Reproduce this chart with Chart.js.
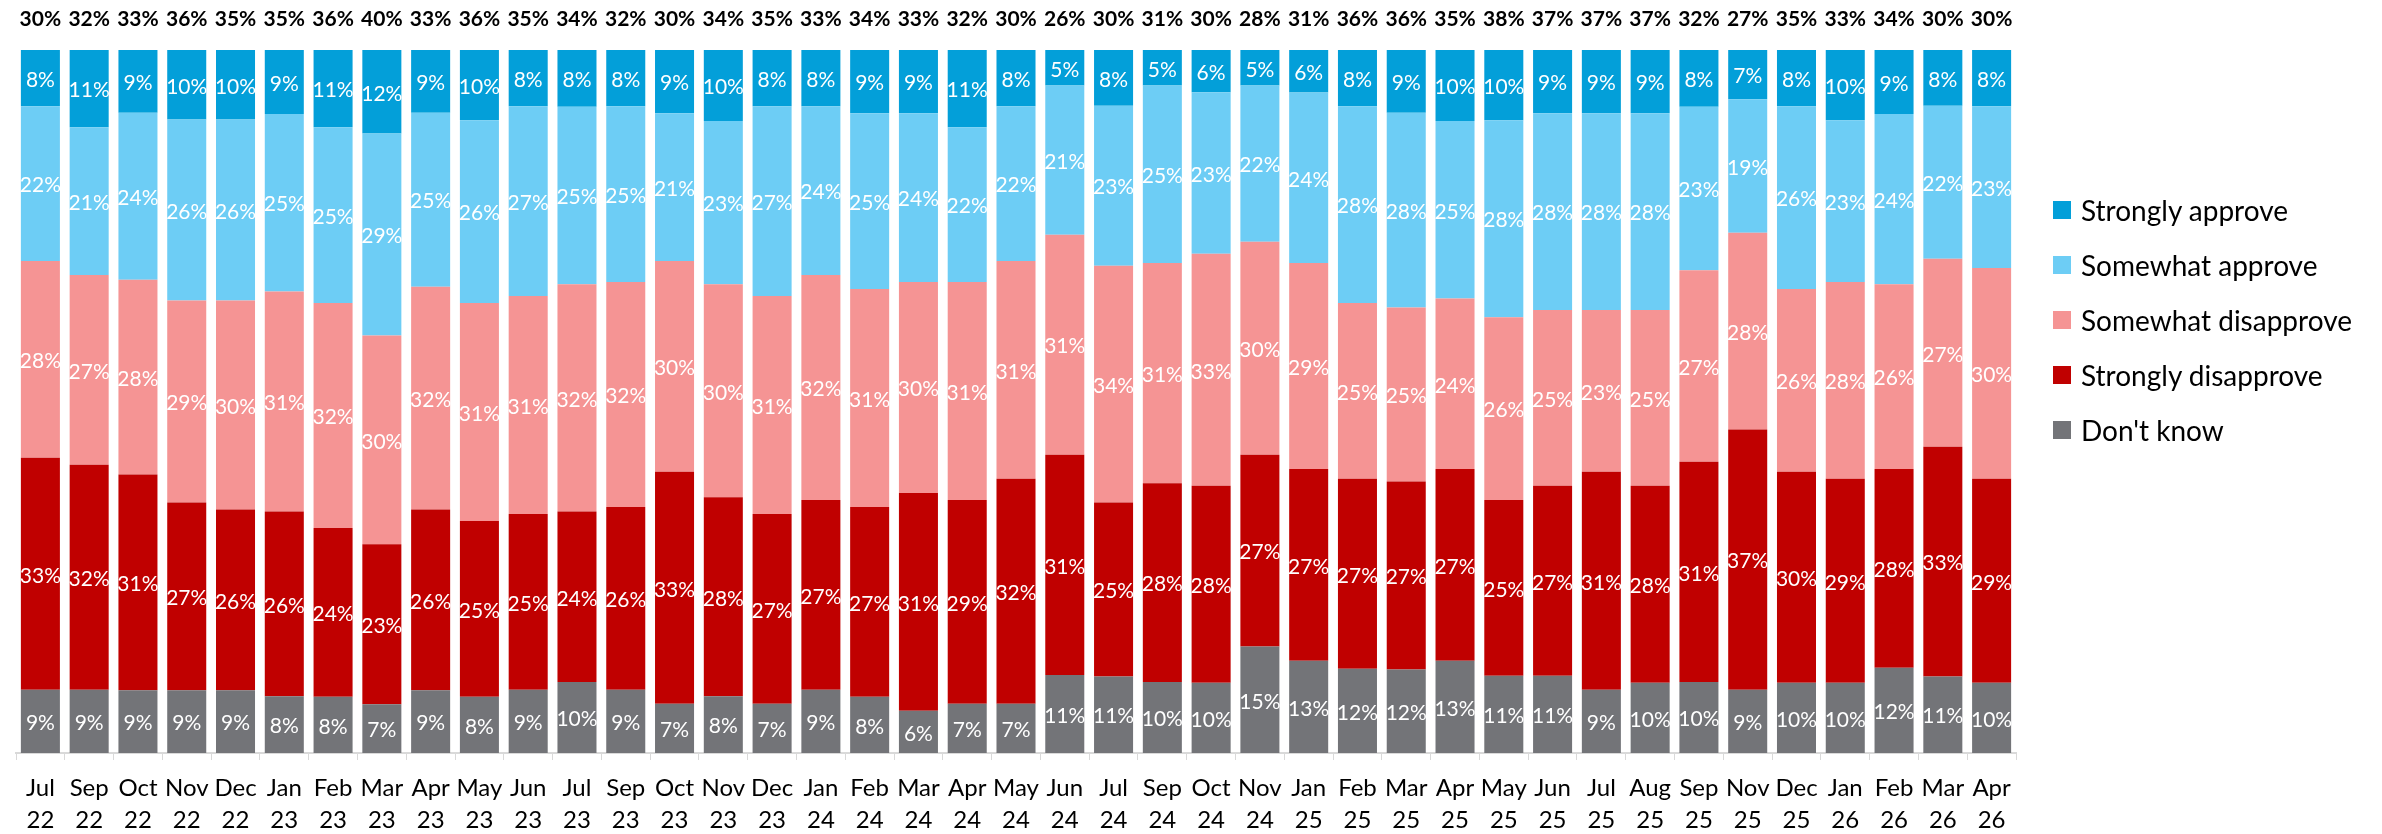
<!DOCTYPE html>
<html>
<head>
<meta charset="utf-8">
<script src="https://cdn.jsdelivr.net/npm/chart.js@4.4.1/dist/chart.umd.min.js"></script>
<style>
  html, body { margin: 0; padding: 0; background: #fff; }
  #wrap { position: relative; width: 2382px; height: 834px; }
  #legend { position: absolute; left: 2053px; top: 182px; font-family: Lato, sans-serif; font-size: 28px; color: #000; }
  .item { display: flex; align-items: center; height: 55px; white-space: nowrap; }
  .box { width: 18px; height: 18px; margin-right: 10px; }
</style>
</head>
<body>
<div id="wrap">
  <canvas id="approval-chart" width="2382" height="834"></canvas>
  <div id="legend"></div>
</div>
<script>
// Datos (porcentajes).
const months = [
  "Jul 22", "Sep 22", "Oct 22", "Nov 22", "Dec 22", "Jan 23", "Feb 23", "Mar 23", "Apr 23", "May 23",
  "Jun 23", "Jul 23", "Sep 23", "Oct 23", "Nov 23", "Dec 23", "Jan 24", "Feb 24", "Mar 24", "Apr 24",
  "May 24", "Jun 24", "Jul 24", "Sep 24", "Oct 24", "Nov 24", "Jan 25", "Feb 25", "Mar 25", "Apr 25",
  "May 25", "Jun 25", "Jul 25", "Aug 25", "Sep 25", "Nov 25", "Dec 25", "Jan 26", "Feb 26", "Mar 26", "Apr 26"
];
const stronglyApprove = [8, 11, 9, 10, 10, 9, 11, 12, 9, 10, 8, 8, 8, 9, 10, 8, 8, 9, 9, 11, 8, 5, 8, 5, 6, 5, 6, 8, 9, 10, 10, 9, 9, 9, 8, 7, 8, 10, 9, 8, 8];
const somewhatApprove = [22, 21, 24, 26, 26, 25, 25, 29, 25, 26, 27, 25, 25, 21, 23, 27, 24, 25, 24, 22, 22, 21, 23, 25, 23, 22, 24, 28, 28, 25, 28, 28, 28, 28, 23, 19, 26, 23, 24, 22, 23];
const somewhatDisapprove = [28, 27, 28, 29, 30, 31, 32, 30, 32, 31, 31, 32, 32, 30, 30, 31, 32, 31, 30, 31, 31, 31, 34, 31, 33, 30, 29, 25, 25, 24, 26, 25, 23, 25, 27, 28, 26, 28, 26, 27, 30];
const stronglyDisapprove = [33, 32, 31, 27, 26, 26, 24, 23, 26, 25, 25, 24, 26, 33, 28, 27, 27, 27, 31, 29, 32, 31, 25, 28, 28, 27, 27, 27, 27, 27, 25, 27, 31, 28, 31, 37, 30, 29, 28, 33, 29];
const dontKnow = [9, 9, 9, 9, 9, 8, 8, 7, 9, 8, 9, 10, 9, 7, 8, 7, 9, 8, 6, 7, 7, 11, 11, 10, 10, 15, 13, 12, 12, 13, 11, 11, 9, 10, 10, 9, 10, 10, 12, 11, 10];
const totalApprove = [30, 32, 33, 36, 35, 35, 36, 40, 33, 36, 35, 34, 32, 30, 34, 35, 33, 34, 33, 32, 30, 26, 30, 31, 30, 28, 31, 36, 36, 35, 38, 37, 37, 37, 32, 27, 35, 33, 34, 30, 30];

const FONT = "Lato, sans-serif";

// Series de abajo hacia arriba (como en la pila).
const series = [
  { label: "Don't know", values: dontKnow, color: "#737478" },
  { label: "Strongly disapprove", values: stronglyDisapprove, color: "#c00000" },
  { label: "Somewhat disapprove", values: somewhatDisapprove, color: "#f59494" },
  { label: "Somewhat approve", values: somewhatApprove, color: "#6dcdf5" },
  { label: "Strongly approve", values: stronglyApprove, color: "#039fd9" },
];

// Gráfico 100% apilado: se normaliza cada columna.
const columnTotals = months.map((m, i) => series.reduce((s, ser) => s + ser.values[i], 0));

// Plugin para las etiquetas de datos y el total de aprobación arriba.
const barLabels = {
  id: "barLabels",
  afterDatasetsDraw(chart) {
    const ctx = chart.ctx;
    ctx.save();
    ctx.textAlign = "center";
    ctx.textBaseline = "middle";
    ctx.fillStyle = "#fff";
    ctx.font = "21px " + FONT;
    series.forEach((ser, i) => {
      chart.getDatasetMeta(i).data.forEach((bar, j) => {
        ctx.fillText(ser.values[j] + "%", bar.x, (bar.y + bar.base) / 2 + 2);
      });
    });
    ctx.fillStyle = "#000";
    ctx.font = "bold 21px " + FONT;
    chart.getDatasetMeta(0).data.forEach((bar, j) => {
      ctx.fillText(totalApprove[j] + "%", bar.x, 19);
    });
    ctx.restore();
  },
};

const ctx = document.getElementById("approval-chart").getContext("2d");
new Chart(ctx, {
  type: "bar",
  data: {
    labels: months.map(m => m.split(" ")),
    datasets: series.map(ser => ({
      label: ser.label,
      data: ser.values.map((v, i) => (v / columnTotals[i]) * 100),
      backgroundColor: ser.color,
      borderWidth: 0,
      barPercentage: 0.8,
      categoryPercentage: 1,
    })),
  },
  options: {
    responsive: false,
    animation: false,
    layout: { padding: { top: 50, left: 16, right: 366, bottom: 0 } },
    plugins: {
      legend: { display: false },
      tooltip: { enabled: false },
    },
    scales: {
      x: {
        stacked: true,
        grid: { display: true, drawOnChartArea: false, drawTicks: true, tickLength: 7, color: "#d9d9d9" },
        border: { display: true, color: "#d9d9d9", width: 2 },
        ticks: {
          color: "#000",
          font: { family: FONT, size: 24, lineHeight: 1.33 },
          padding: 12,
          maxRotation: 0,
          autoSkip: false,
        },
        afterFit: scale => { scale.height = 81; },
      },
      y: {
        stacked: true,
        display: false,
        min: 0,
        max: 100,
      },
    },
  },
  plugins: [barLabels],
});

// Leyenda en HTML (orden de arriba hacia abajo).
const legend = document.getElementById("legend");
series.slice().reverse().forEach(ser => {
  const item = document.createElement("div");
  item.className = "item";
  item.innerHTML = `<span class="box" style="background:${ser.color}"></span><span>${ser.label}</span>`;
  legend.appendChild(item);
});
</script>
</body>
</html>
